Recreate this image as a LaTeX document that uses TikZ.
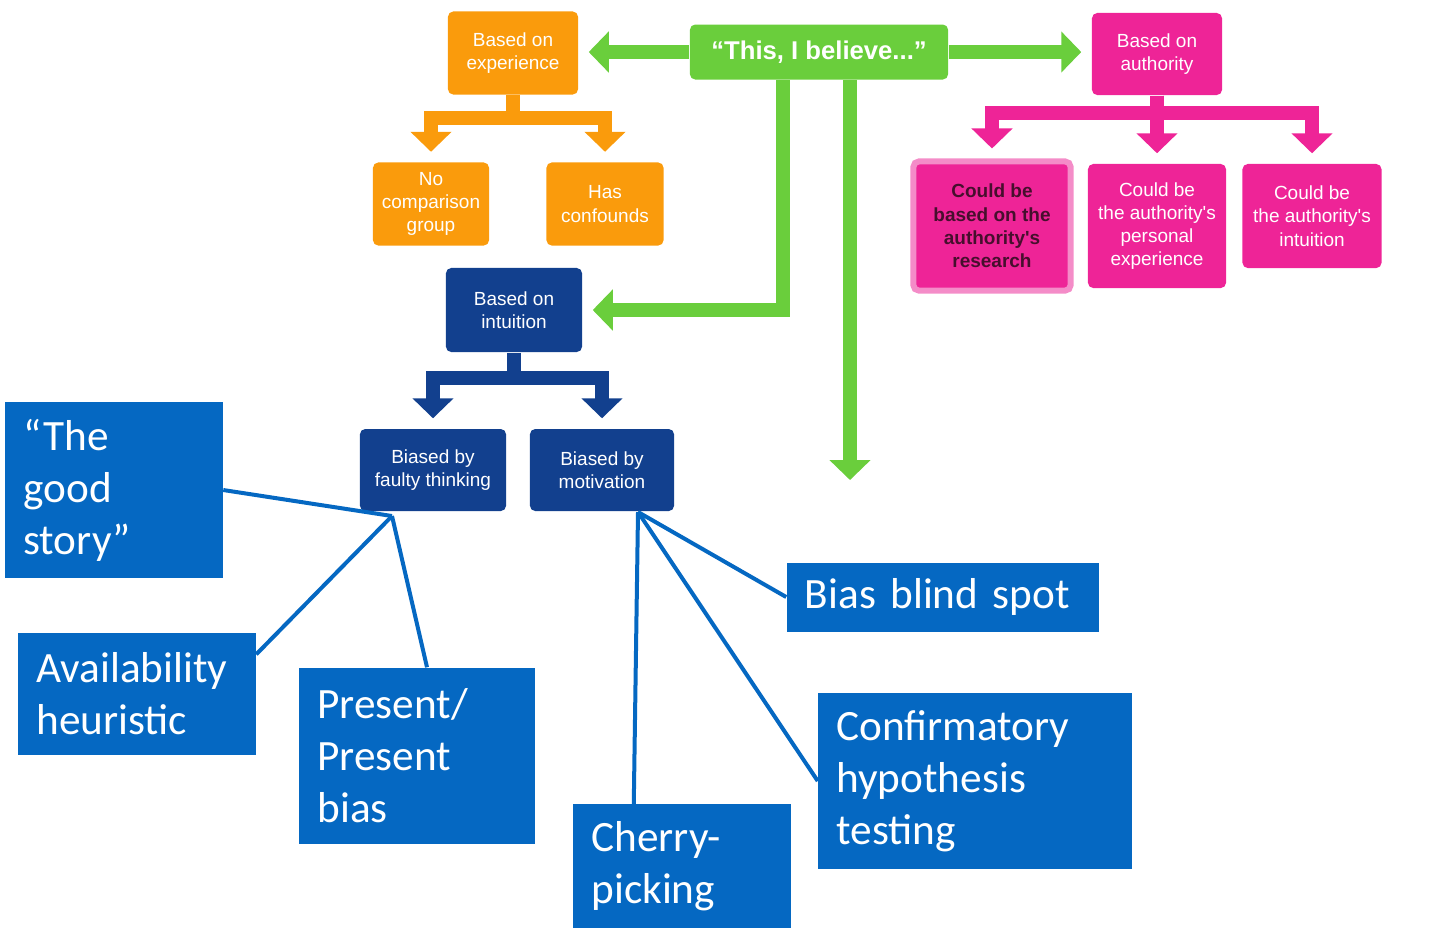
\documentclass[tikz,border=0pt]{standalone}
\usepackage{fontspec}
\setmainfont{Carlito}
\newfontfamily\arialfont{Liberation Sans}
\usepackage{xcolor}
\usepackage{tikz}
\usetikzlibrary{arrows.meta}
\usetikzlibrary{positioning}

\definecolor{orangeC}{RGB}{250,155,12}
\definecolor{greenC}{RGB}{106,206,60}
\definecolor{pinkC}{RGB}{238,36,151}
\definecolor{pinkL}{RGB}{244,140,200}
\definecolor{navyC}{RGB}{18,64,142}
\definecolor{blueC}{RGB}{5,104,194}
\definecolor{darkC}{RGB}{70,15,45}

\begin{document}
\begin{tikzpicture}[x=0.01cm, y=-0.01cm,
    small/.style={rectangle, rounded corners=1.5pt, text=white, align=center, inner sep=0pt,
      font=\arialfont\fontsize{5.4}{6.6}\selectfont},
    expbox/.style={small, fill=orangeC},
    authbox/.style={small, fill=pinkC},
    intbox/.style={small, fill=navyC},
    biasbox/.style={rectangle, fill=blueC, text=white, align=left, inner xsep=0.18cm, inner ysep=0pt,
      font=\fontsize{12.3}{14.8}\selectfont},
    fatarrow/.style={line width=0.14cm, -{Triangle[width=0.4cm,length=0.2cm]}, shorten >=0.1cm},
    link/.style={draw=blueC, line width=0.04cm},
  ]

  \useasboundingbox (0,0) rectangle (1440,947);

  % Sources
  \node[expbox, minimum width=1.30cm, minimum height=0.83cm] (exp) at (513,53) {Based on\\experience};
  \node[small, fill=greenC, font=\arialfont\bfseries\fontsize{7.3}{8}\selectfont,
    minimum width=2.58cm, minimum height=0.55cm] (believe) at (819,52) {“This, I believe...”};
  \node[authbox, minimum width=1.30cm, minimum height=0.82cm] (auth) at (1157,54) {Based on\\authority};
  \node[intbox, minimum width=1.36cm, minimum height=0.84cm] (intuition) at (514,310) {Based on\\intuition};

  % Second level
  \node[expbox, minimum width=1.16cm, minimum height=0.83cm] (nocomp) at (431,204) {No\\comparison\\group};
  \node[expbox, minimum width=1.17cm, minimum height=0.83cm] (confound) at (605,204) {Has\\confounds};
  \node[authbox, draw=pinkL, line width=0.06cm, text=darkC,
    font=\arialfont\bfseries\fontsize{5.4}{6.6}\selectfont,
    minimum width=1.57cm, minimum height=1.29cm] (research) at (992,226) {Could be\\based on the\\authority's\\research};
  \node[authbox, minimum width=1.38cm, minimum height=1.24cm] (personal) at (1157,226) {Could be\\the authority's\\personal\\experience};
  \node[authbox, minimum width=1.39cm, minimum height=1.04cm] (intuit) at (1312,216) {Could be\\the authority's\\intuition};
  \node[intbox, minimum width=1.46cm, minimum height=0.82cm] (faulty) at (433,470) {Biased by\\faulty thinking};
  \node[intbox, minimum width=1.44cm, minimum height=0.82cm] (motive) at (602,470) {Biased by\\motivation};

  % Biases
  \node[biasbox, text width=1.81cm, minimum height=1.75cm] (story) at (114,490) {“The\\good\\story”};
  \node[biasbox, text width=2.01cm, minimum height=1.22cm] (avail) at (137,694) {Availability\\heuristic};
  \node[biasbox, text width=1.99cm, minimum height=1.76cm] (present) at (417,756) {Present/\\Present\\bias};
  \node[biasbox, text width=1.81cm, minimum height=1.23cm] (cherry) at (682,866) {Cherry-\\picking};
  \node[biasbox, text width=2.76cm, minimum height=0.69cm] (blind) at (943,597) {Bias blind spot};
  \node[biasbox, text width=2.77cm, minimum height=1.75cm] (conf) at (975,781) {Confirmatory\\hypothesis\\testing};

  % Green arrows
  \draw[fatarrow, greenC] (believe.west) -- (believe.west -| exp.east);
  \draw[fatarrow, greenC] (believe.east) -- (believe.east -| auth.west);
  \draw[fatarrow, greenC] (783,0 |- believe.south) |- (intuition.east);
  \coordinate (tail) at (850,480);
  \draw[fatarrow, greenC, shorten >=0pt] (850,0 |- believe.south) -- (tail);

  % Forks
  \draw[fatarrow, orangeC] (exp.south) -- (513,118) -| (nocomp.north);
  \draw[fatarrow, orangeC] (exp.south) -- (513,118) -| (confound.north);
  \draw[fatarrow, pinkC] (auth.south) -- (1157,113) -| (research.north);
  \draw[fatarrow, pinkC] (auth.south) -- (1157,113) -| (personal.north);
  \draw[fatarrow, pinkC] (auth.south) -- (1157,113) -| (intuit.north);
  \draw[fatarrow, navyC] (intuition.south) -- (514,378) -| (faulty.north);
  \draw[fatarrow, navyC] (intuition.south) -- (514,378) -| (motive.north);

  % Links to biases
  \coordinate (hubA) at (392,516);
  \coordinate (hubB) at (638,512);
  \draw[link] (hubA) -- (story.east);
  \draw[link] (hubA) -- ([yshift=-0.22cm]avail.north east);
  \draw[link] (hubA) -- ([xshift=0.1cm]present.north);
  \draw[link] (hubB) -- ([xshift=0.61cm]cherry.north west);
  \draw[link] (hubB) -- (conf.west);
  \draw[link] (hubB) -- (blind.west);

\end{tikzpicture}
\end{document}
